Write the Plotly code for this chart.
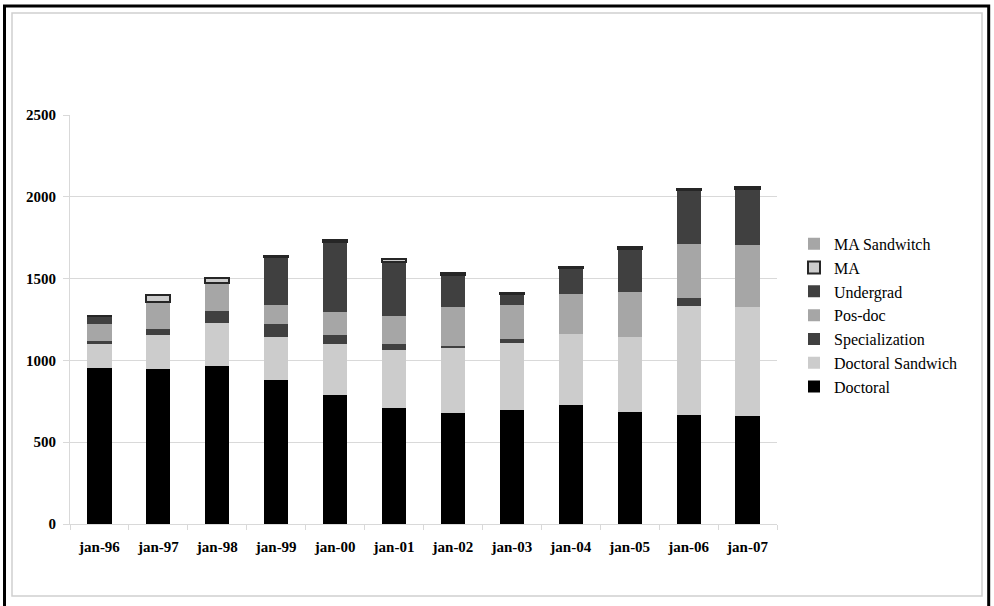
import plotly.graph_objects as go

# Yearly counts by programme type
years = ["jan-96", "jan-97", "jan-98", "jan-99", "jan-00", "jan-01",
         "jan-02", "jan-03", "jan-04", "jan-05", "jan-06", "jan-07"]

doctoral = [955, 945, 967, 878, 789, 712, 679, 694, 725, 684, 665, 663]
doctoral_sandwich = [147, 210, 261, 263, 309, 353, 401, 410, 438, 462, 665, 663]
specialization = [14, 38, 76, 81, 55, 33, 9, 26, 0, 0, 49, 0]
pos_doc = [104, 162, 171, 116, 143, 171, 235, 210, 241, 270, 335, 378]
undergrad = [51, 0, 0, 292, 430, 331, 200, 66, 159, 267, 328, 346]
ma = [0, 42, 26, 8, 8, 20, 12, 8, 8, 8, 8, 10]
ma_sandwitch = [0, 0, 0, 0, 0, 0, 0, 0, 0, 0, 0, 0]

series = [
    ("Doctoral", doctoral, "#000000", None),
    ("Doctoral Sandwich", doctoral_sandwich, "#cccccc", None),
    ("Specialization", specialization, "#404040", None),
    ("Pos-doc", pos_doc, "#a6a6a6", None),
    ("Undergrad", undergrad, "#404040", None),
    ("MA", ma, "#cccccc", "#262626"),
    ("MA Sandwitch", ma_sandwitch, "#a6a6a6", None),
]

SERIF = "Liberation Serif"

fig = go.Figure()
for i, (name, vals, color, edge) in enumerate(series):
    fig.add_trace(go.Bar(
        x=years, y=vals, name=name,
        legendgroup=f"g{i}",
        marker=dict(color=color,
                    line=dict(color=edge or color, width=2 if edge else 0)),
    ))

# plot-area geometry in pixels, used to place the frame shapes
L, R, T, B = 70, 777, 115.3, 523.7
W, H = R - L, B - T


def px(x):
    return (x - L) / W


def py(y):
    return (B - y) / H


shapes = [
    dict(type="rect", xref="paper", yref="paper",
         x0=px(4.5), x1=px(988.7), y0=py(6.5), y1=py(640),
         line=dict(color="#000000", width=3), layer="below"),
    dict(type="rect", xref="paper", yref="paper",
         x0=px(12), x1=px(982), y0=py(13.5), y1=py(595.5),
         line=dict(color="#d0d0d0", width=1.5), layer="below"),
]

fig.update_layout(
    width=994, height=606,
    margin=dict(l=L, r=994 - R, t=T, b=606 - B),
    barmode="stack", bargap=0.59,
    paper_bgcolor="white", plot_bgcolor="white",
    font=dict(family=SERIF, color="#000000"),
    shapes=shapes,
    showlegend=True,
    legend=dict(
        traceorder="reversed", tracegroupgap=7.3,
        x=px(794), xanchor="left", y=py(227), yanchor="top",
        font=dict(family=SERIF, size=16, color="#000000"),
        itemsizing="constant", bgcolor="rgba(0,0,0,0)",
    ),
    xaxis=dict(
        type="category", showgrid=False,
        showline=True, linecolor="#d9d9d9", linewidth=1,
        ticks="outside", tickson="boundaries", ticklen=5, tickcolor="#d9d9d9",
        tickfont=dict(family=SERIF, size=15, weight="bold"),
        ticklabelstandoff=9,
    ),
    yaxis=dict(
        range=[0, 2500], tickvals=[0, 500, 1000, 1500, 2000, 2500],
        showgrid=True, gridcolor="#d9d9d9", gridwidth=1,
        showline=True, linecolor="#d9d9d9", linewidth=1,
        ticks="outside", ticklen=6, tickcolor="#d9d9d9",
        tickfont=dict(family=SERIF, size=15, weight="bold"),
        ticklabelstandoff=4, zeroline=False,
    ),
)

fig.write_html("out.html")
